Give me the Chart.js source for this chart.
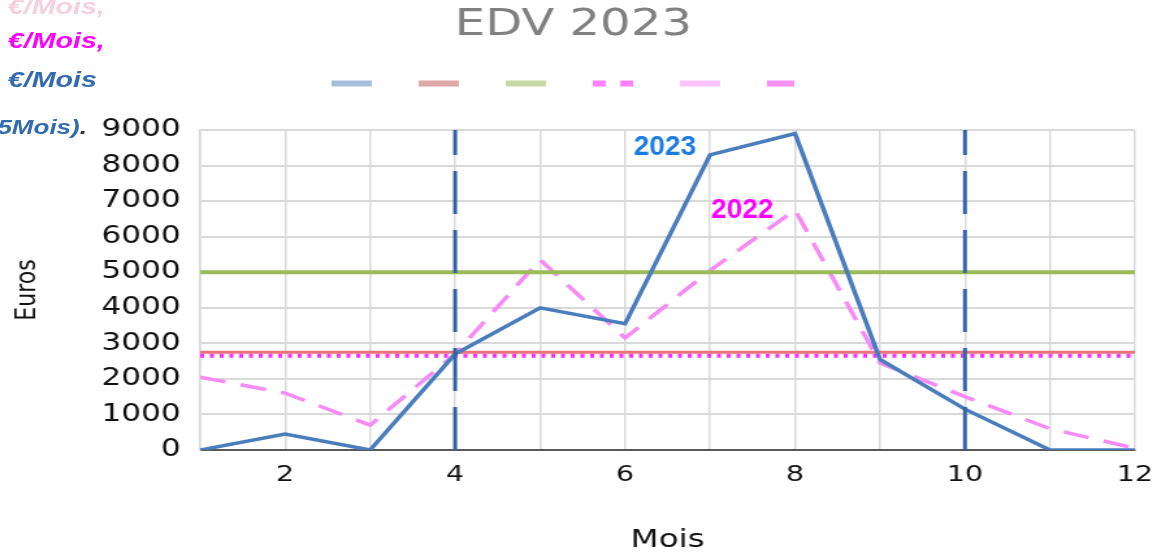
<!DOCTYPE html>
<html lang="fr">
<head>
<meta charset="utf-8">
<title>EDV 2023</title>
<script src="https://cdn.jsdelivr.net/npm/chart.js@4.4.1/dist/chart.umd.min.js"></script>
<style>
  html, body { margin: 0; padding: 0; background: #fff; overflow: hidden; }
  /* the source picture is widened horizontally, so the figure is drawn at 900px and stretched */
  #stage { position: relative; width: 900px; height: 556px; transform: scaleX(1.3); transform-origin: 0 0; }
  #chart { position: absolute; left: 0; top: 0; }
  .note { position: absolute; font: italic bold 22px "Liberation Sans", Arial, sans-serif; line-height: 26px; white-space: nowrap; }
</style>
</head>
<body>
<div id="stage">
  <canvas id="chart" width="900" height="556"></canvas>
  <div class="note" style="left:6px;top:-6px;color:#f7d0dd">€/Mois,</div>
  <div class="note" style="left:6px;top:28px;color:#ff00ff">€/Mois,</div>
  <div class="note" style="left:6px;top:67px;color:#336bb0">€/Mois</div>
  <div class="note" style="left:-2px;top:114px;font-size:20px;color:#336bb0">5Mois)<span style="color:#333">.</span></div>
</div>

<script>
// ─── DATA ─────────────────────────────────────────────────────────────────
const mois = [1, 2, 3, 4, 5, 6, 7, 8, 9, 10, 11, 12];
const ca2023 = [0, 450, 0, 2700, 4000, 3550, 8300, 8900, 2550, 1150, 0, 0];
const ca2022 = [2050, 1600, 700, 2700, 5350, 3150, 5050, 6750, 2450, 1500, 600, 50];

// horizontal reference levels: objectif, moyenne, moyenne 2022
const niveaux = [5000, 2750, 2650];
// months marked by the vertical dashed lines
const moisReperes = [4, 10];

const yTicks = { min: 0, max: 9000, step: 1000 };

// year tags written inside the plot
const tagTextes = ['2023', '2022'];
const tagMois = [6.47, 7.38];
const tagValeurs = [8500, 6730];
const tagCouleurs = ['#1a7be0', '#ff00ff'];

// legend samples (only lines, no text in the picture)
const legendCouleurs = ['#a7bedd', '#dfa8a8', '#c9d9a6', '#ff80ff', '#ffc4ff', '#f590f5'];
const legendTraits = [[], [], [], [10, 11], [], [21, 100]];
const legendDatasets = [2, 4, 5, 3, 6, 0];

// ─── HELPERS ──────────────────────────────────────────────────────────────
const TXT = '#111';
const GRID = '#d9d9d9';
const FONT = 'DejaVu Sans';

function serie(values) {
  return mois.map((m, i) => ({ x: m, y: values[i] }));
}

function flat(v) {
  return [{ x: mois[0], y: v }, { x: mois[mois.length - 1], y: v }];
}

function vertical(m) {
  return [{ x: m, y: yTicks.min }, { x: m, y: yTicks.max }];
}

function line(data, color, width, dash) {
  return { data, borderColor: color, backgroundColor: color, borderWidth: width, borderDash: dash || [],
    pointRadius: 0, fill: false, tension: 0, borderCapStyle: 'butt' };
}

const yearTags = {
  id: 'yearTags',
  afterDatasetsDraw(chart) {
    const { ctx, scales: { x, y } } = chart;
    tagTextes.forEach((t, i) => {
      ctx.save();
      ctx.translate(x.getPixelForValue(tagMois[i]), y.getPixelForValue(tagValeurs[i]));
      ctx.scale(1 / 1.3, 1); // keep these tags un-stretched like in the picture
      ctx.font = 'bold 28px "Liberation Sans", Arial, sans-serif';
      ctx.fillStyle = tagCouleurs[i];
      ctx.textAlign = 'center';
      ctx.textBaseline = 'middle';
      ctx.fillText(t, 0, 0);
      ctx.restore();
    });
  }
};

// ─── CHART ────────────────────────────────────────────────────────────────
new Chart(document.getElementById('chart'), {
  type: 'line',
  data: {
    datasets: [
      line(vertical(moisReperes[0]), '#3463a5', 3, [43, 16]),
      line(vertical(moisReperes[1]), '#3463a5', 3, [43, 16]),
      line(serie(ca2023), '#4a7dbb', 3.5),
      line(flat(niveaux[2]), '#ff2bff', 4, [3, 4.5]),
      line(flat(niveaux[1]), '#e8737a', 3),
      line(flat(niveaux[0]), '#9bbb59', 4),
      line(serie(ca2022), '#f68af6', 3.5, [20, 12]),
    ]
  },
  options: {
    responsive: false,
    animation: false,
    events: [],
    layout: { padding: { left: 9, right: 27, top: 0, bottom: 0 } },
    plugins: {
      title: {
        display: true, text: 'EDV 2023', color: '#808080',
        font: { family: FONT, size: 37, weight: 'normal' },
        padding: { top: 3, bottom: 0 }
      },
      subtitle: { display: true, text: '', weight: 500, font: { size: 10 }, padding: { top: 18.6, bottom: 0 } },
      legend: {
        display: true, position: 'top', align: 'center',
        labels: {
          usePointStyle: true, pointStyleWidth: 31, padding: 30, font: { size: 12 },
          generateLabels: () => legendCouleurs.map((c, i) => ({
            text: '', strokeStyle: c, fillStyle: c, lineWidth: 6, lineDash: legendTraits[i],
            lineCap: 'butt', pointStyle: 'line', hidden: false, datasetIndex: legendDatasets[i]
          }))
        }
      },
      tooltip: { enabled: false }
    },
    scales: {
      x: {
        type: 'linear', min: mois[0], max: mois[mois.length - 1],
        afterFit: s => { s.height = 106; },
        ticks: {
          stepSize: 1, autoSkip: false, maxRotation: 0, padding: 12, color: TXT,
          font: { family: FONT, size: 22 },
          callback: v => (v % 2 === 0 ? String(v) : '')
        },
        grid: { color: GRID, lineWidth: 1.5, drawTicks: false },
        border: { color: '#595959', width: 2 },
        title: { display: true, text: 'Mois', color: TXT, font: { family: FONT, size: 25 }, padding: { top: 0, bottom: 1 } }
      },
      y: {
        min: yTicks.min, max: yTicks.max,
        afterFit: s => { s.width = 145; },
        ticks: { stepSize: yTicks.step, padding: 15, color: TXT, font: { family: FONT, size: 24 }, callback: v => String(v) },
        grid: { color: GRID, lineWidth: 2, drawTicks: false },
        border: { color: GRID, width: 1.5 },
        title: { display: true, text: 'Euros', color: TXT, font: { family: FONT, size: 22 }, padding: { top: -1, bottom: 0 } }
      }
    }
  },
  plugins: [yearTags]
});
</script>
</body>
</html>
